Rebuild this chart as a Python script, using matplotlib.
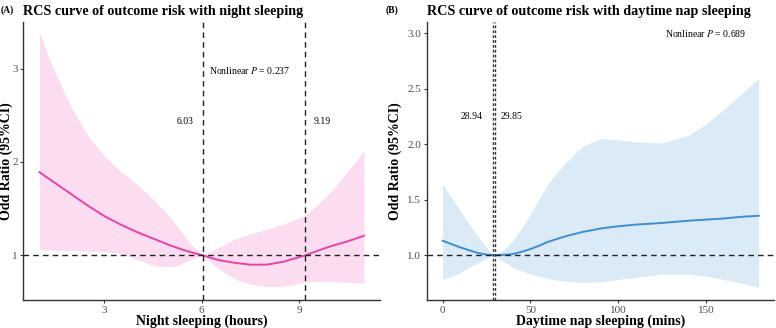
import matplotlib
matplotlib.use('Agg')
import matplotlib.pyplot as plt

plt.rcParams['font.family'] = ['Liberation Serif', 'DejaVu Serif']
plt.rcParams['mathtext.fontset'] = 'stix'

# (A) night sleeping, hours
night_x = [1.0, 1.25, 1.5, 2.0, 2.5, 3.0, 3.5, 4.0, 4.5, 5.0, 5.25, 5.5, 5.75, 6.03, 6.5, 7.0, 7.5, 8.0, 8.5, 9.19, 9.5, 10.0, 10.5, 11.0]
night_or = [1.89, 1.83, 1.77, 1.65, 1.53, 1.42, 1.33, 1.25, 1.18, 1.11, 1.08, 1.05, 1.025, 1.0, 0.95, 0.92, 0.90, 0.90, 0.93, 1.0, 1.04, 1.10, 1.15, 1.21]
night_hi = [3.39, 3.15, 2.94, 2.57, 2.28, 2.06, 1.90, 1.76, 1.60, 1.42, 1.31, 1.19, 1.09, 1.0, 1.08, 1.17, 1.23, 1.28, 1.33, 1.43, 1.52, 1.69, 1.90, 2.12]
night_lo = [1.065, 1.06, 1.055, 1.05, 1.045, 1.04, 1.02, 0.96, 0.89, 0.875, 0.89, 0.93, 0.965, 1.0, 0.86, 0.75, 0.69, 0.665, 0.67, 0.71, 0.72, 0.72, 0.71, 0.70]
night_cuts = [6.03, 9.19]

# (B) daytime nap sleeping, mins
nap_x = [0, 5, 10, 15, 20, 25, 28.94, 35, 40, 45, 50, 55, 60, 65, 70, 75, 80, 90, 100, 110, 125, 140, 150, 160, 170, 180]
nap_or = [1.13, 1.10, 1.07, 1.045, 1.02, 1.005, 1.0, 1.003, 1.01, 1.03, 1.055, 1.085, 1.12, 1.145, 1.17, 1.19, 1.21, 1.24, 1.26, 1.275, 1.29, 1.31, 1.32, 1.33, 1.345, 1.355]
nap_hi = [1.64, 1.52, 1.40, 1.28, 1.17, 1.07, 1.0, 1.05, 1.13, 1.24, 1.37, 1.51, 1.64, 1.74, 1.83, 1.91, 1.98, 2.05, 2.04, 2.02, 2.01, 2.08, 2.18, 2.31, 2.45, 2.59]
nap_lo = [0.78, 0.81, 0.84, 0.89, 0.93, 0.97, 1.0, 0.94, 0.89, 0.86, 0.83, 0.81, 0.79, 0.775, 0.765, 0.76, 0.755, 0.76, 0.78, 0.80, 0.83, 0.83, 0.81, 0.78, 0.75, 0.71]
nap_cuts = [28.94, 29.85]

fig = plt.figure(figsize=(7.76, 3.28), dpi=100)
ax1 = fig.add_axes([0.030, 0.085, 0.460, 0.848])
ax2 = fig.add_axes([0.550, 0.085, 0.448, 0.848])

def style(ax):
    for s in ['top', 'right']:
        ax.spines[s].set_visible(False)
    for s in ['left', 'bottom']:
        ax.spines[s].set_color('#333333')
        ax.spines[s].set_linewidth(1.0)
    ax.tick_params(length=2.5, width=0.8, color='#333333', labelsize=8, labelcolor='#4d4d4d', pad=1.5)

# left panel
ax1.fill_between(night_x, night_lo, night_hi, color='#fcdcf0', lw=0)
ax1.plot(night_x, night_or, color='#e445a6', lw=1.4)
ax1.axhline(1, color='#222222', ls=(0, (4, 3)), lw=1.0)
for c in night_cuts:
    ax1.axvline(c, color='#222222', ls=(0, (4, 3)), lw=1.0)
ax1.set_xlim(0.5, 11.5)
ax1.set_ylim(0.52, 3.50)
ax1.set_xticks([3, 6, 9])
ax1.set_yticks([1, 2, 3])
style(ax1)
ax1.text(7.47, 2.98, 'Nonlinear $P$ = 0.237', fontsize=7, ha='center', va='center')
ax1.text(5.75, 2.43, '6.03', fontsize=7, ha='right', va='center')
ax1.text(9.45, 2.43, '9.19', fontsize=7, ha='left', va='center')
ax1.set_xlabel('Night sleeping (hours)', fontsize=10, fontweight='bold', labelpad=0)
ax1.set_ylabel('Odd Ratio (95%CI)', fontsize=10, fontweight='bold')
ax1.yaxis.set_label_coords(-0.03, 0.5)
ax1.set_title('RCS curve of outcome risk with night sleeping', fontsize=10.2, fontweight='bold', loc='left', pad=5)
fig.text(0.001, 0.985, '(A)', fontsize=7, fontweight='bold', va='top')

# right panel
ax2.fill_between(nap_x, nap_lo, nap_hi, color='#dbeaf7', lw=0)
ax2.plot(nap_x, nap_or, color='#3f8fd2', lw=1.4)
ax2.axhline(1, color='#222222', ls=(0, (4, 3)), lw=1.0)
for c in nap_cuts:
    ax2.axvline(c, color='#333333', ls=(0, (2, 1.5)), lw=1.0)
ax2.set_xlim(-9, 189)
ax2.set_ylim(0.595, 3.10)
ax2.set_xticks([0, 50, 100, 150])
ax2.set_yticks([1.0, 1.5, 2.0, 2.5, 3.0])
ax2.set_yticklabels(['1.0', '1.5', '2.0', '2.5', '3.0'])
style(ax2)
ax2.text(149.7, 3.0, 'Nonlinear $P$ = 0.689', fontsize=7, ha='center', va='center')
ax2.text(22.8, 2.25, '28.94', fontsize=7, ha='right', va='center')
ax2.text(33.0, 2.25, '29.85', fontsize=7, ha='left', va='center')
ax2.set_xlabel('Daytime nap sleeping (mins)', fontsize=10, fontweight='bold', labelpad=0)
ax2.set_ylabel('Odd Ratio (95%CI)', fontsize=10, fontweight='bold')
ax2.yaxis.set_label_coords(-0.072, 0.5)
ax2.set_title('RCS curve of outcome risk with daytime nap sleeping', fontsize=10.2, fontweight='bold', loc='left', pad=5)
fig.text(0.497, 0.985, '(B)', fontsize=7, fontweight='bold', va='top')

fig.savefig('out.png', dpi=100)
